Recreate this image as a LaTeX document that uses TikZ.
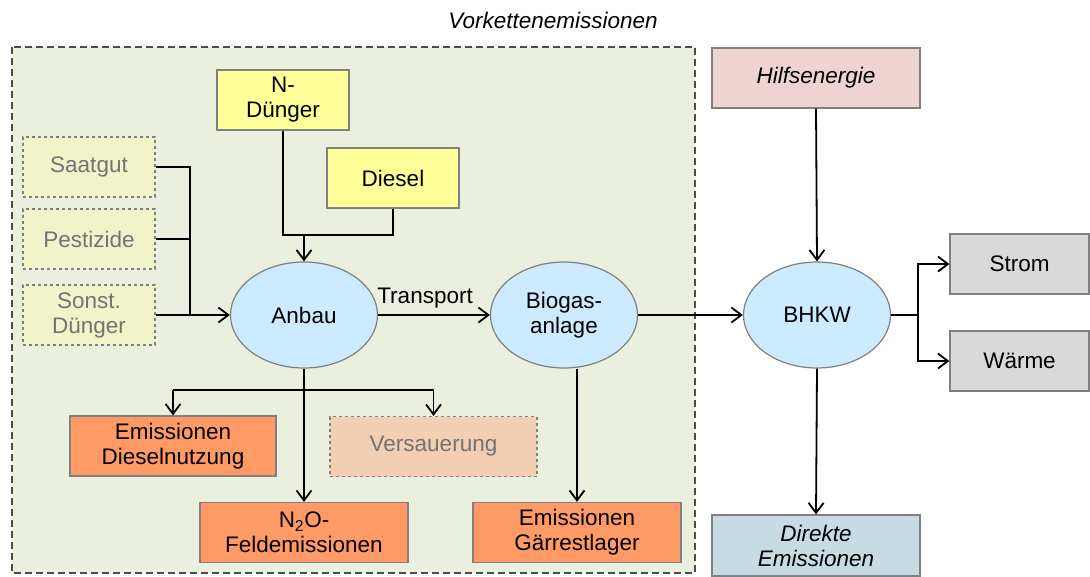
\documentclass[tikz,border=0pt]{standalone}
\usepackage{fontspec}
\setmainfont{Liberation Sans}
\usepackage{xcolor}
\usetikzlibrary{shapes,shapes.geometric,arrows.meta,positioning,calc}

\definecolor{frameBg}{HTML}{EBF0DE}
\definecolor{yellowFill}{HTML}{FFFF99}
\definecolor{paleYellow}{HTML}{F1F4C8}
\definecolor{orangeFill}{HTML}{FF9966}
\definecolor{peachFill}{HTML}{F2CEB2}
\definecolor{pinkFill}{HTML}{EFD3D3}
\definecolor{grayFill}{HTML}{D9D9D9}
\definecolor{blueGray}{HTML}{C6DBE2}
\definecolor{procFill}{HTML}{CDEBFF}
\definecolor{edgeGray}{HTML}{808080}

\begin{document}
\begin{tikzpicture}[
    x=1pt, y=-1pt,
    font=\fontsize{22.5}{25}\selectfont,
    box/.style={rectangle, draw=edgeGray, line width=1.2pt,
                minimum width=#1, minimum height=60pt,
                align=center, inner sep=0pt},
    box/.default=132pt,
    inbox/.style={box, fill=yellowFill},
    optbox/.style={box, fill=paleYellow, dashed, text=black!55},
    embox/.style={box=208pt, fill=orangeFill},
    proc/.style={ellipse, draw=edgeGray, line width=1.2pt, fill=procFill,
                 minimum width=147pt, minimum height=106pt,
                 align=center, inner sep=0pt},
    arr/.style={line width=1.8pt, -{Straight Barb[length=10pt,width=15pt]}},
    ln/.style={line width=1.8pt},
  ]
  \useasboundingbox (0,0) rectangle (1090,576);

  % System boundary
  \draw[draw=black!70, fill=frameBg, line width=1.8pt, dash pattern=on 7pt off 4pt]
    (12,47) rectangle (695,573);
  \node (title) at (553,20) {\itshape Vorkettenemissionen};

  % Inputs
  \node[inbox] (ndung) at (283,100) {N-\\Dünger};
  \node[inbox] (diesel) at (393,178) {Diesel};
  \node[optbox] (saat) at (89,167) {Saatgut};
  \node[optbox] (pest) at (89,239) {Pestizide};
  \node[optbox] (sonst) at (89,315) {Sonst.\\Dünger};

  % Processes
  \node[proc] (anbau) at (304,315) {Anbau};
  \node[proc] (biogas) at (564,315) {Biogas-\\anlage};
  \node[proc] (bhkw) at (817,315) {BHKW};

  % Emissions
  \node[embox, minimum width=206pt] (emdiesel) at (173,446) {Emissionen\\Dieselnutzung};
  \node[box=207pt, fill=peachFill, dashed, text=black!55] (versauer) at (433.5,446.5) {Versauerung};
  \node[embox] (n2o) at (304,532.5) {N\textsubscript{2}O-\\Feldemissionen};
  \node[embox] (gaer) at (577,532.5) {Emissionen\\Gärrestlager};

  % Right side
  \node[box=208pt, fill=pinkFill] (hilfs) at (816,78) {\itshape Hilfsenergie};
  \node[box=139pt, fill=grayFill] (strom) at (1019.5,264) {Strom};
  \node[box=139pt, fill=grayFill] (waerme) at (1019.5,361) {Wärme};
  \node[box=208pt, fill=blueGray, minimum height=61pt] (direkt) at (816,545.5)
    {\itshape Direkte\\\itshape Emissionen};

  % Junctions
  \coordinate (jleft) at (190,315);
  \coordinate (jtop) at (304,235);
  \coordinate (jdown) at (304,390);
  \coordinate (jright) at (918,315);

  % Inputs -> Anbau
  \draw[ln] (saat.east) -| (jleft);
  \draw[ln] (pest.east) -- (pest.east -| jleft);
  \draw[arr] (sonst.east) -- (anbau.west);
  \draw[ln] (ndung.south) |- (diesel.south |- jtop) -- (diesel.south);
  \draw[arr] (jtop) -- (anbau.north);

  % Process chain
  \draw[arr] (anbau.east) -- node[above=3pt, pos=0.42] (transp) {Transport} (biogas.west);
  \draw[arr] (biogas.east) -- (bhkw.west);
  \draw[arr] (hilfs.south) -- (bhkw.north);
  \draw[arr] (bhkw.south) -- (direkt.north);
  \draw[ln] (bhkw.east) -- (jright);
  \draw[arr] (jright) |- (strom.west);
  \draw[arr] (jright) |- (waerme.west);

  % Emissions
  \draw[arr] (anbau.south) -- (n2o.north);
  \draw[ln] (emdiesel.north |- jdown) -- (versauer.north |- jdown);
  \draw[arr] (emdiesel.north |- jdown) -- (emdiesel.north);
  \draw[arr] (versauer.north |- jdown) -- (versauer.north);
  \draw[arr] (gaer.north |- biogas.south) -- (gaer.north);
\end{tikzpicture}
\end{document}
